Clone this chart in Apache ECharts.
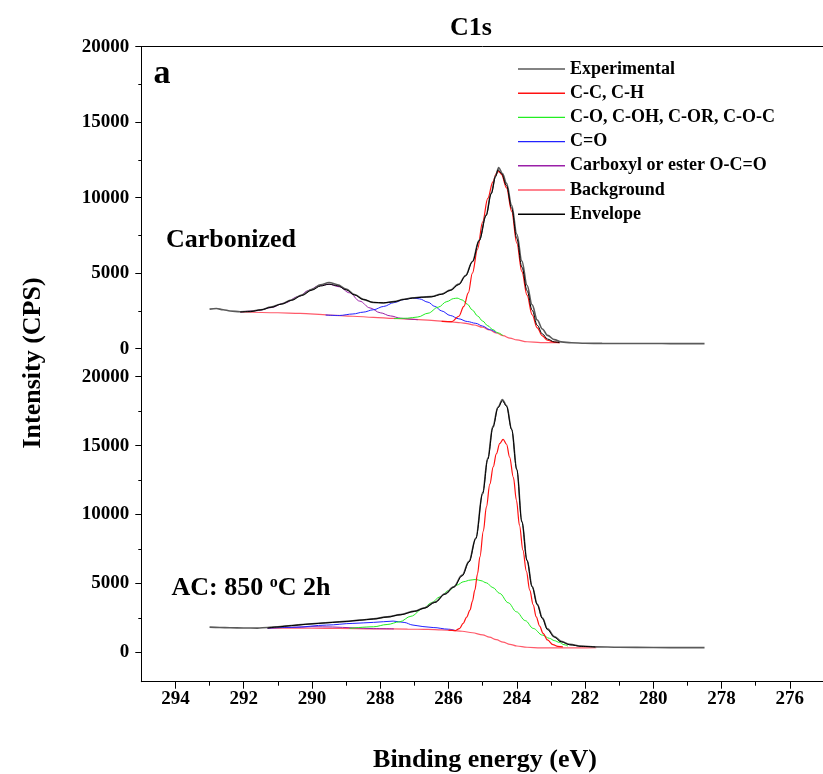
<!DOCTYPE html>
<html><head><meta charset="utf-8">
<script src="https://cdn.jsdelivr.net/npm/echarts@6/dist/echarts.min.js"></script>
<style>html,body{margin:0;padding:0;background:#fff}#c{width:823px;height:774px}</style>
</head><body><div id="c"></div>
<script>
// ---------- axis ticks ----------
const xMajor = [294, 292, 290, 288, 286, 284, 282, 280, 278, 276];
const xMinor = [293, 291, 289, 287, 285, 283, 281, 279, 277];
const yMajor = [0, 5000, 10000, 15000, 20000];
const yMinor = [2500, 7500, 12500, 17500];
const legendNames = ['Experimental', 'C-C, C-H', 'C-O, C-OH, C-OR, C-O-C', 'C=O', 'Carboxyl or ester O-C=O', 'Background', 'Envelope'];

// ---------- top panel: Carbonized ----------
const topExpE = [293.0, 292.8, 292.6, 292.4, 292.1, 291.8, 291.5, 291.2, 290.9, 290.6, 290.3, 290.0, 289.75, 289.5, 289.25, 289.0, 288.75, 288.5, 288.2, 287.9, 287.6, 287.3, 287.05, 286.8, 286.5, 286.2, 285.95, 285.7, 285.5, 285.3, 285.1, 284.9, 284.75, 284.62, 284.53, 284.42, 284.3, 284.15, 284.0, 283.85, 283.7, 283.55, 283.4, 283.25, 283.1, 282.9, 282.7, 282.4, 282.0, 281.5, 281.0, 280.5, 280.0, 279.5, 279.0, 278.5];
const topExpV = [2620, 2660, 2580, 2500, 2450, 2470, 2580, 2760, 2960, 3230, 3560, 3930, 4230, 4380, 4240, 3950, 3580, 3270, 3060, 3030, 3120, 3280, 3370, 3420, 3450, 3620, 3880, 4280, 4850, 5780, 7200, 8850, 10300, 11450, 12000, 11600, 10950, 9500, 7600, 5800, 4200, 2900, 1900, 1300, 880, 600, 450, 390, 360, 350, 345, 340, 345, 335, 340, 335];
const topEnvE = [292.1, 291.8, 291.5, 291.2, 290.9, 290.6, 290.3, 290.0, 289.75, 289.5, 289.25, 289.0, 288.75, 288.5, 288.2, 287.9, 287.6, 287.3, 287.05, 286.8, 286.5, 286.2, 285.95, 285.7, 285.5, 285.3, 285.1, 284.9, 284.75, 284.62, 284.55, 284.45, 284.3, 284.15, 284.0, 283.85, 283.7, 283.55, 283.4, 283.25, 283.1, 282.9, 282.75];
const topEnvV = [2430, 2460, 2570, 2740, 2950, 3200, 3520, 3880, 4150, 4270, 4170, 3900, 3560, 3260, 3070, 3040, 3110, 3260, 3350, 3400, 3440, 3600, 3860, 4250, 4820, 5750, 7150, 8800, 10250, 11400, 11850, 11600, 10800, 9300, 7300, 5400, 3850, 2550, 1550, 980, 640, 450, 400];
const topBgE = [292.1, 291.0, 290.35, 289.5, 288.8, 288.2, 287.6, 287.0, 286.5, 286.15, 285.9, 285.65, 285.45, 285.25, 285.0, 284.8, 284.6, 284.4, 284.2, 284.0, 283.7, 283.3, 282.75];
const topBgV = [2430, 2380, 2340, 2230, 2150, 2080, 2010, 1945, 1880, 1815, 1770, 1720, 1660, 1570, 1420, 1240, 1050, 860, 700, 580, 460, 400, 400];
const topCCE = [286.2, 285.9, 285.7, 285.55, 285.42, 285.3, 285.15, 285.0, 284.85, 284.7, 284.6, 284.53, 284.45, 284.3, 284.15, 284.0, 283.85, 283.7, 283.55, 283.4, 283.25, 283.1, 282.9, 282.75];
const topCCV = [1815, 1790, 2150, 2800, 3700, 5000, 6600, 8400, 9950, 11050, 11600, 11750, 11550, 10650, 9100, 7000, 5100, 3550, 2250, 1380, 850, 560, 430, 400];
const topCOE = [287.6, 287.2, 286.9, 286.6, 286.3, 286.05, 285.85, 285.75, 285.6, 285.45, 285.3, 285.15, 285.0, 284.85, 284.7, 284.55, 284.4];
const topCOV = [1990, 2020, 2100, 2350, 2750, 3120, 3320, 3350, 3230, 2950, 2560, 2170, 1830, 1520, 1260, 1050, 860];
const topCEOE = [289.6, 289.2, 288.8, 288.5, 288.2, 287.9, 287.6, 287.3, 287.05, 286.85, 286.6, 286.4, 286.2, 285.95, 285.7, 285.45, 285.2, 285.0, 284.8, 284.6];
const topCEOV = [2230, 2200, 2300, 2420, 2580, 2800, 3050, 3260, 3360, 3300, 3080, 2800, 2500, 2200, 1980, 1800, 1680, 1500, 1270, 1060];
const topCarbE = [292.1, 291.6, 291.2, 290.8, 290.4, 290.1, 289.8, 289.5, 289.2, 288.9, 288.6, 288.3, 288.0, 287.7, 287.4, 287.1, 286.9];
const topCarbV = [2430, 2520, 2720, 3030, 3450, 3850, 4170, 4270, 4100, 3700, 3150, 2700, 2380, 2170, 2020, 1950, 1920];

// ---------- bottom panel: AC 850 °C 2h ----------
const botExpE = [293.0, 292.7, 292.4, 292.0, 291.6, 291.3, 291.0, 290.6, 290.2, 289.8, 289.4, 289.0, 288.6, 288.2, 287.8, 287.4, 287.0, 286.7, 286.4, 286.1, 285.85, 285.6, 285.4, 285.2, 285.0, 284.85, 284.7, 284.55, 284.42, 284.3, 284.15, 284.0, 283.85, 283.7, 283.55, 283.4, 283.25, 283.1, 282.9, 282.7, 282.45, 282.1, 281.7, 281.0, 280.0, 279.0, 278.5];
const botExpV = [1830, 1800, 1780, 1770, 1760, 1800, 1860, 1950, 2040, 2110, 2180, 2250, 2340, 2430, 2570, 2740, 2990, 3230, 3650, 4250, 4750, 5600, 6600, 8300, 11600, 14100, 16400, 17800, 18350, 17900, 16200, 13300, 9500, 6700, 4800, 3500, 2500, 1700, 1150, 800, 580, 450, 400, 370, 350, 340, 340];
const botEnvE = [291.3, 291.0, 290.6, 290.2, 289.8, 289.4, 289.0, 288.6, 288.2, 287.8, 287.4, 287.0, 286.7, 286.4, 286.1, 285.85, 285.6, 285.4, 285.2, 285.0, 284.85, 284.7, 284.55, 284.42, 284.3, 284.15, 284.0, 283.85, 283.7, 283.55, 283.4, 283.25, 283.1, 282.9, 282.7, 282.45, 282.1, 281.7];
const botEnvV = [1760, 1840, 1940, 2030, 2100, 2170, 2240, 2330, 2420, 2560, 2730, 2970, 3210, 3620, 4220, 4720, 5550, 6550, 8250, 11500, 14000, 16300, 17750, 18250, 17850, 16150, 13250, 9450, 6650, 4750, 3450, 2450, 1650, 1100, 760, 550, 430, 390];
const botBgE = [291.3, 290.0, 289.2, 288.2, 287.2, 286.6, 286.2, 285.9, 285.6, 285.3, 285.0, 284.8, 284.6, 284.4, 284.2, 284.0, 283.7, 283.3, 282.8, 282.2, 281.67];
const botBgV = [1760, 1750, 1740, 1710, 1690, 1660, 1630, 1590, 1530, 1420, 1270, 1100, 920, 740, 580, 460, 370, 320, 320, 330, 333];
const botCCE = [286.0, 285.8, 285.68, 285.57, 285.47, 285.37, 285.3, 285.23, 285.15, 285.08, 284.98, 284.89, 284.79, 284.69, 284.6, 284.5, 284.4, 284.3, 284.21, 284.1, 284.01, 283.92, 283.82, 283.72, 283.62, 283.52, 283.43, 283.33, 283.23, 283.1, 282.94, 282.8, 282.65];
const botCCV = [1610, 1580, 1720, 2100, 2550, 3065, 3700, 4515, 5700, 6930, 8800, 10550, 12200, 13450, 14400, 15140, 15450, 15100, 14170, 12700, 11035, 9200, 7410, 5900, 4515, 3450, 2580, 1900, 1377, 900, 560, 430, 400];
const botCOE = [288.9, 288.2, 287.8, 287.43, 287.1, 286.74, 286.5, 286.25, 286.0, 285.76, 285.55, 285.37, 285.2, 285.05, 284.89, 284.7, 284.5, 284.25, 284.01, 283.75, 283.52, 283.25, 283.04, 282.9, 282.75, 282.62, 282.5];
const botCOV = [1740, 1855, 2020, 2217, 2620, 3188, 3600, 4029, 4480, 4877, 5130, 5239, 5290, 5200, 5043, 4700, 4275, 3600, 2942, 2300, 1739, 1250, 1014, 850, 720, 560, 450];
const botCEOE = [291.3, 290.5, 289.57, 288.8, 288.2, 287.62, 287.3, 287.04, 286.75, 286.45, 286.0, 285.8];
const botCEOV = [1760, 1820, 1978, 2100, 2174, 2268, 2170, 1978, 1870, 1800, 1680, 1580];
const botCarbE = [291.3, 290.6, 290.0, 289.4, 288.8, 288.2, 287.6];
const botCarbV = [1760, 1810, 1860, 1840, 1780, 1720, 1700];

// ---------- build ----------
const FONT = "'Liberation Serif', 'Times New Roman', serif";
const COLORS = {
  'Experimental': '#5a5a5a',
  'C-C, C-H': '#ff1010',
  'C-O, C-OH, C-OR, C-O-C': '#22ee22',
  'C=O': '#2222ff',
  'Carboxyl or ester O-C=O': '#9a1fa8',
  'Background': '#ff5a6a',
  'Envelope': '#000000'
};
function pairs(E, V) { return E.map((e, i) => [e, V[i]]); }
function ser(name, xi, yi, E, V, w, z) {
  return {
    name: name, type: 'line', xAxisIndex: xi, yAxisIndex: yi,
    data: pairs(E, V), smooth: 0.35, smoothMonotone: 'x',
    symbol: 'none', showSymbol: false, z: z,
    lineStyle: { color: COLORS[name], width: w }, itemStyle: { color: COLORS[name] },
    emphasis: { disabled: true }, silent: true
  };
}
const series = [
  ser('Background', 0, 0, topBgE, topBgV, 1.2, 2),
  ser('Carboxyl or ester O-C=O', 0, 0, topCarbE, topCarbV, 1, 3),
  ser('C=O', 0, 0, topCEOE, topCEOV, 1, 3),
  ser('C-O, C-OH, C-OR, C-O-C', 0, 0, topCOE, topCOV, 1, 3),
  ser('C-C, C-H', 0, 0, topCCE, topCCV, 1.2, 4),
  ser('Experimental', 0, 0, topExpE, topExpV, 1.6, 5),
  ser('Envelope', 0, 0, topEnvE, topEnvV, 1, 6),
  ser('Background', 1, 2, botBgE, botBgV, 1.2, 2),
  ser('Carboxyl or ester O-C=O', 1, 2, botCarbE, botCarbV, 1, 3),
  ser('C=O', 1, 2, botCEOE, botCEOV, 1, 3),
  ser('C-O, C-OH, C-OR, C-O-C', 1, 2, botCOE, botCOV, 1, 3),
  ser('C-C, C-H', 1, 2, botCCE, botCCV, 1.2, 4),
  ser('Experimental', 1, 2, botExpE, botExpV, 1.6, 5),
  ser('Envelope', 1, 2, botEnvE, botEnvV, 1, 6)
];

const labelStyle = { fontFamily: FONT, fontWeight: 'bold', fontSize: 19, color: '#000' };
const lineBlack = { show: true, onZero: false, lineStyle: { color: '#000', width: 1 } };
function yMain(grid, min) {
  return {
    type: 'value', gridIndex: grid, position: 'left', min: min, max: 20000,
    axisLine: lineBlack, splitLine: { show: false },
    axisTick: { show: true, inside: false, length: 6, customValues: yMajor, lineStyle: { color: '#000' } },
    axisLabel: Object.assign({ show: true, margin: 12, customValues: yMajor, formatter: v => String(v) }, labelStyle)
  };
}
function yMinorAxis(grid, min) {
  return {
    type: 'value', gridIndex: grid, position: 'left', min: min, max: 20000,
    axisLine: { show: false }, splitLine: { show: false },
    axisTick: { show: true, inside: false, length: 3, customValues: yMinor, lineStyle: { color: '#000' } },
    axisLabel: { show: false }
  };
}

const option = {
  animation: false,
  backgroundColor: '#fff',
  grid: [
    { left: 141.3, top: 46.7, width: 682.7, height: 330, outerBoundsMode: 'none', containLabel: false },
    { left: 141.3, top: 376.7, width: 682.7, height: 305, outerBoundsMode: 'none', containLabel: false }
  ],
  xAxis: [
    { type: 'value', gridIndex: 0, position: 'top', min: 275, max: 295, inverse: true,
      axisLine: lineBlack, axisTick: { show: false }, axisLabel: { show: false }, splitLine: { show: false } },
    { type: 'value', gridIndex: 1, position: 'bottom', min: 275, max: 295, inverse: true,
      axisLine: lineBlack, splitLine: { show: false },
      axisTick: { show: true, length: 7, customValues: xMajor, lineStyle: { color: '#000' } },
      axisLabel: Object.assign({ show: true, margin: 8, customValues: xMajor, formatter: v => String(v) }, labelStyle) },
    { type: 'value', gridIndex: 1, position: 'bottom', min: 275, max: 295, inverse: true,
      axisLine: { show: false, onZero: false }, splitLine: { show: false },
      axisTick: { show: true, length: 4, customValues: xMinor, lineStyle: { color: '#000' } },
      axisLabel: { show: false } }
  ],
  yAxis: [yMain(0, -1854), yMinorAxis(0, -1854), yMain(1, -2130), yMinorAxis(1, -2130)],
  legend: {
    data: legendNames, orient: 'vertical', left: 513, top: 55, padding: 5,
    icon: 'rect', itemWidth: 47, itemHeight: 1.4, itemGap: 6.2,
    textStyle: { fontFamily: FONT, fontWeight: 'bold', fontSize: 18, color: '#000', lineHeight: 18 },
    selectedMode: false
  },
  graphic: [
    { type: 'text', style: { text: 'C1s', x: 471, y: 28, align: 'center', verticalAlign: 'middle', font: "bold 26px 'Liberation Serif', serif", fill: '#000' } },
    { type: 'text', style: { text: 'a', x: 162, y: 74, align: 'center', verticalAlign: 'middle', font: "bold 34px 'Liberation Serif', serif", fill: '#000' } },
    { type: 'text', style: { text: 'Carbonized', x: 231, y: 240, align: 'center', verticalAlign: 'middle', font: "bold 26px 'Liberation Serif', serif", fill: '#000' } },
    { type: 'text', style: {
        text: '{a|AC: 850 }{s|o}{a|C 2h}', x: 251, y: 588, align: 'center', verticalAlign: 'middle',
        rich: {
          a: { font: "bold 26px 'Liberation Serif', serif", fill: '#000', color: '#000', verticalAlign: 'bottom' },
          s: { font: "bold 16px 'Liberation Serif', serif", fill: '#000', color: '#000', verticalAlign: 'top' }
        } } },
    { type: 'text', x: 33, y: 363, rotation: Math.PI / 2, style: { text: 'Intensity (CPS)', x: 0, y: 0, align: 'center', verticalAlign: 'middle', font: "bold 26px 'Liberation Serif', serif", fill: '#000' } },
    { type: 'text', style: { text: 'Binding energy (eV)', x: 485, y: 760, align: 'center', verticalAlign: 'middle', font: "bold 26px 'Liberation Serif', serif", fill: '#000' } }
  ],
  series: series
};
const chart = echarts.init(document.getElementById('c'), null, { renderer: 'canvas' });
chart.setOption(option);
</script></body></html>
